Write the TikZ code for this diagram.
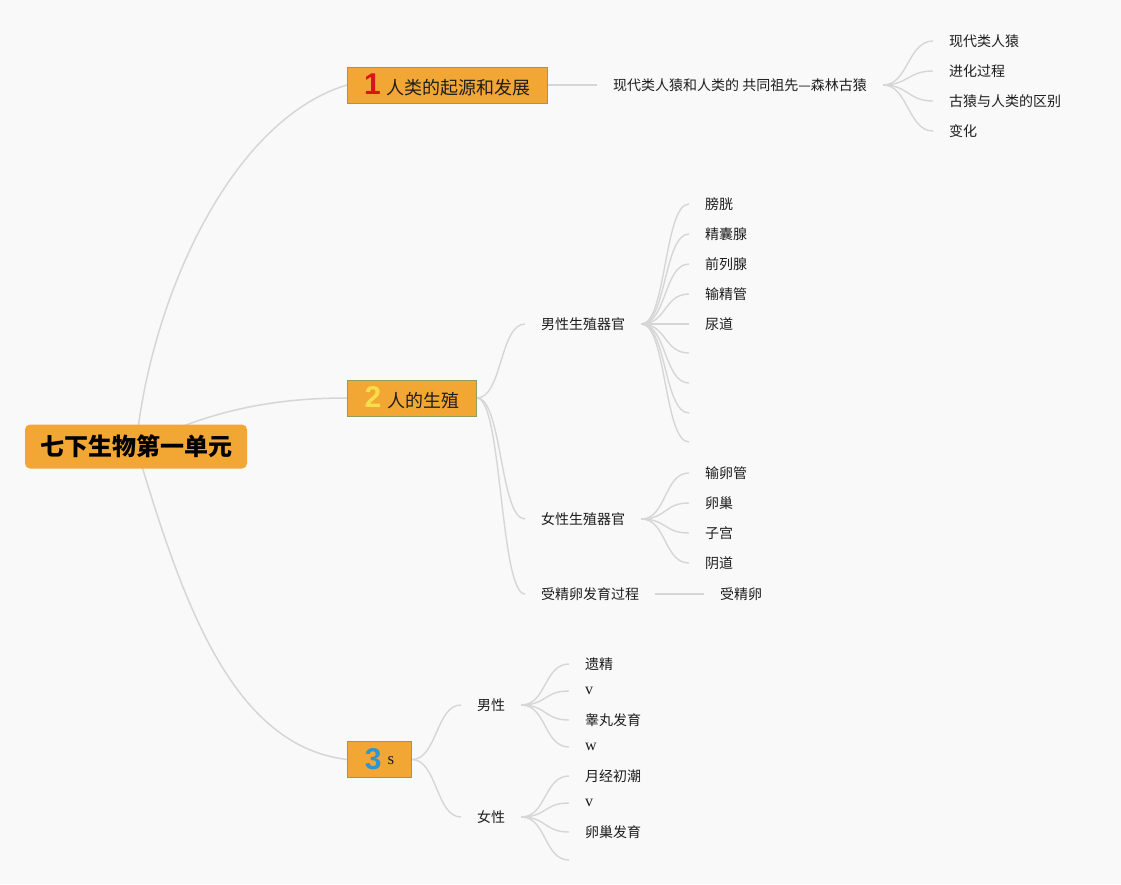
\documentclass[tikz,border=0pt]{standalone}
\usepackage{fontspec}
\setmainfont{Noto Sans CJK SC}
\newfontfamily\numfont{Liberation Sans}
\newfontfamily\latfont{Liberation Serif}
\definecolor{bgc}{HTML}{F9F9F9}
\definecolor{boxfill}{HTML}{F2A735}
\definecolor{boxline}{HTML}{8E9E5E}
\definecolor{linec}{HTML}{D6D6D6}
\definecolor{txtc}{HTML}{1E1E1E}
\definecolor{numred}{HTML}{D8141C}
\definecolor{numyellow}{HTML}{F7DD4A}
\definecolor{numblue}{HTML}{2C95D4}
\pgfdeclarelayer{bg}
\pgfdeclarelayer{edges}
\pgfsetlayers{bg,edges,main}
\tikzset{
  rootbox/.style={fill=boxfill, rounded corners=5pt, minimum width=222pt, minimum height=44pt, inner sep=0pt, text=black, font=\fontsize{24}{28}\selectfont\bfseries},
  mainbox/.style={fill=boxfill, draw=boxline, line width=1pt, minimum height=36pt, inner sep=0pt, anchor=west, text=txtc, font=\fontsize{18}{22}\selectfont},
  leaf/.style={inner xsep=16pt, inner ysep=0pt, anchor=west, text=txtc, font=\fontsize{14}{17}\selectfont},
  latleaf/.style={leaf, font=\latfont\fontsize{16}{18}\selectfont},
  lnk/.style={draw=linec, line width=1.5pt},
  fan/.style={draw=linec, line width=1.4pt}
}
\newcommand{\badge}[2]{{\numfont\bfseries\fontsize{30}{30}\selectfont\color{#1}#2}\hspace{6pt}}
\begin{document}
\begin{tikzpicture}[x=1pt,y=-1pt]
\useasboundingbox (0,0) rectangle (1121,884);
\begin{pgfonlayer}{bg}
\fill[bgc] (0,0) rectangle (1121,884);
\end{pgfonlayer}

% root and main branches
\node[rootbox] (root) at (136,446.5) {七下生物第一单元};
\node[mainbox, minimum width=200pt] (b1) at (347,85) {\badge{numred}{1}人类的起源和发展};
\node[mainbox, minimum width=129pt] (b2) at (347,398) {\badge{numyellow}{2}人的生殖};
\node[mainbox, minimum width=64pt] (b3) at (347,759.5) {\badge{numblue}{3}\raisebox{5pt}{\latfont\fontsize{17}{20}\selectfont s}};

% branch 1
\node[leaf] (c1) at (597,85) {现代类人猿和人类的 共同祖先—森林古猿};
\node[leaf] (g1) at (933,41) {现代类人猿};
\node[leaf] (g2) at (933,71) {进化过程};
\node[leaf] (g3) at (933,101) {古猿与人类的区别};
\node[leaf] (g4) at (933,131) {变化};

% branch 2
\node[leaf] (m) at (525,324) {男性生殖器官};
\node[leaf] (f) at (525,519) {女性生殖器官};
\node[leaf] (z) at (525,594) {受精卵发育过程};
\node[leaf] (m1) at (689,204) {膀胱};
\node[leaf] (m2) at (689,234) {精囊腺};
\node[leaf] (m3) at (689,264) {前列腺};
\node[leaf] (m4) at (689,294) {输精管};
\node[leaf] (m5) at (689,324) {尿道};
\coordinate (m6) at (689,353);
\coordinate (m7) at (689,383);
\coordinate (m8) at (689,413);
\coordinate (m9) at (689,442);
\node[leaf] (f1) at (689,473) {输卵管};
\node[leaf] (f2) at (689,503) {卵巢};
\node[leaf] (f3) at (689,533) {子宫};
\node[leaf] (f4) at (689,563) {阴道};
\node[leaf] (z1) at (704,594) {受精卵};

% branch 3
\node[leaf] (nm) at (461,705) {男性};
\node[leaf] (nv) at (461,817) {女性};
\node[leaf] (nm1) at (569,664) {遗精};
\node[latleaf] (nm2) at (569,691) {v};
\node[leaf] (nm3) at (569,720) {睾丸发育};
\node[latleaf] (nm4) at (569,747) {w};
\node[leaf] (nv1) at (569,776) {月经初潮};
\node[latleaf] (nv2) at (569,803) {v};
\node[leaf] (nv3) at (569,832) {卵巢发育};
\coordinate (nv4) at (569,860);

\begin{pgfonlayer}{edges}
\draw[lnk] (root.center) .. controls +(14,-146) and +(-117,35) .. (b1.west);
\draw[lnk] (root.center) .. controls +(64,-31) and +(-87,0) .. (b2.west);
\draw[lnk] (root.center) .. controls +(45,150) and +(-117,-14) .. (b3.west);

\draw[fan] (b1.east) -- (c1.west);
\foreach \t in {g1,g2,g3,g4}
  \draw[fan] (c1.east) .. controls +(25,0) and +(-25,0) .. (\t.west);

\foreach \t in {m,f,z}
  \draw[fan] (b2.east) .. controls +(25,0) and +(-25,0) .. (\t.west);
\foreach \t in {m1,m2,m3,m4,m5}
  \draw[fan] (m.east) .. controls +(25,0) and +(-25,0) .. (\t.west);
\foreach \t in {m6,m7,m8,m9}
  \draw[fan] (m.east) .. controls +(25,0) and +(-25,0) .. (\t);
\foreach \t in {f1,f2,f3,f4}
  \draw[fan] (f.east) .. controls +(25,0) and +(-25,0) .. (\t.west);
\draw[fan] (z.east) -- (z1.west);

\foreach \t in {nm,nv}
  \draw[fan] (b3.east) .. controls +(25,0) and +(-25,0) .. (\t.west);
\foreach \t in {nm1,nm2,nm3,nm4}
  \draw[fan] (nm.east) .. controls +(25,0) and +(-25,0) .. (\t.west);
\foreach \t in {nv1,nv2,nv3}
  \draw[fan] (nv.east) .. controls +(25,0) and +(-25,0) .. (\t.west);
\draw[fan] (nv.east) .. controls +(25,0) and +(-25,0) .. (nv4);
\end{pgfonlayer}
\end{tikzpicture}
\end{document}
